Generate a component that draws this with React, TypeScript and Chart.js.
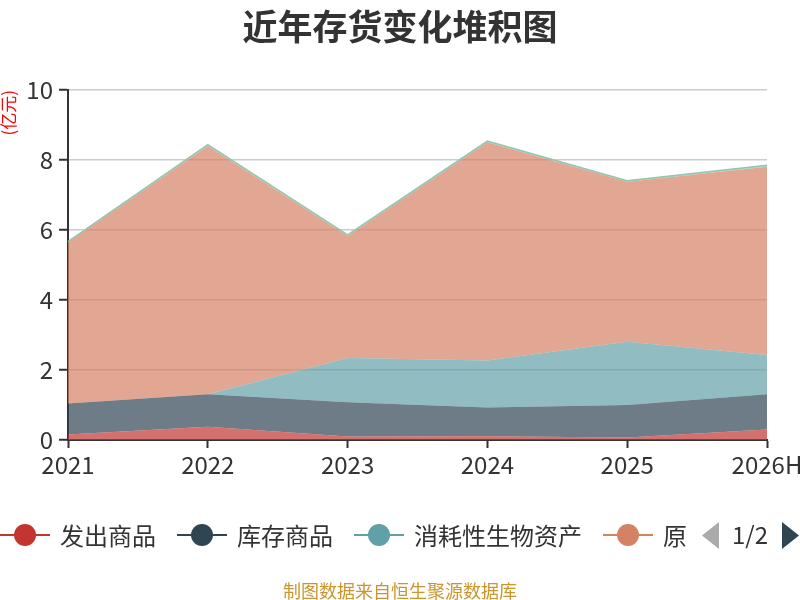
import Chart from "chart.js/auto";
import { useEffect, useRef } from "react";

// 近年存货变化堆积图 (单位: 亿元)
const years = ["2021", "2022", "2023", "2024", "2025", "2026H"];
const seriesNames = ["发出商品", "库存商品", "消耗性生物资产", "原材料", "周转材料"];
const seriesColors = ["#c23531", "#2f4554", "#61a0a8", "#d48265", "#91c7ae"];

const fachuShangpin = [0.16, 0.38, 0.1, 0.11, 0.07, 0.3];
const kucunShangpin = [0.88, 0.93, 0.98, 0.82, 0.93, 1.01];
const xiaohaoZichan = [0, 0, 1.26, 1.34, 1.81, 1.12];
const yuancailiao = [4.6, 7.09, 3.49, 6.24, 4.57, 5.38];
const zhouzhuanCailiao = [0.03, 0.04, 0.03, 0.03, 0.03, 0.04];

const yMin = 0;
const yMax = 10;
const yStep = 2;

const seriesValues = [fachuShangpin, kucunShangpin, xiaohaoZichan, yuancailiao, zhouzhuanCailiao];

const FONT = '"Noto Sans CJK SC", "Noto Sans", sans-serif';

function LegendIcon({ color }: { color: string }) {
  return (
    <svg width={50} height={24} style={{ flex: "none" }}>
      <line x1={0} y1={12} x2={50} y2={12} stroke={color} strokeWidth={2} />
      <circle cx={25} cy={12} r={11} fill={color} />
    </svg>
  );
}

export default function App() {
  const canvasRef = useRef<HTMLCanvasElement>(null);

  useEffect(() => {
    if (!canvasRef.current) return;

    const chart = new Chart(canvasRef.current, {
      type: "line",
      data: {
        labels: years,
        datasets: seriesNames.map((name, i) => ({
          label: name,
          data: seriesValues[i],
          borderColor: seriesColors[i],
          borderWidth: i === 4 ? 1.5 : 0,
          backgroundColor: seriesColors[i] + "b3",
          fill: i === 0 ? "origin" : "-1",
          pointRadius: 0,
          tension: 0,
        })),
      },
      options: {
        responsive: false,
        animation: false,
        layout: {
          padding: { top: 90, left: 0, right: 33, bottom: 120 },
        },
        plugins: {
          legend: { display: false },
          tooltip: { enabled: false },
        },
        scales: {
          x: {
            offset: false,
            grid: {
              drawOnChartArea: false,
              drawTicks: true,
              tickLength: 8,
              tickColor: "#333",
              tickWidth: 2,
            },
            border: { color: "#333", width: 2 },
            ticks: {
              color: "#333",
              font: { family: FONT, size: 24 },
              padding: 2,
              maxRotation: 0,
              autoSkip: false,
            },
            afterFit: (scale: any) => {
              scale.height = 40;
              scale.paddingLeft = 0;
              scale.paddingRight = 0;
            },
          },
          y: {
            stacked: true,
            min: yMin,
            max: yMax,
            grid: {
              color: "#ccc",
              lineWidth: 1.5,
              tickLength: 9,
              tickColor: "#333",
              tickWidth: 2,
            },
            border: { color: "#333", width: 2 },
            ticks: {
              stepSize: yStep,
              color: "#333",
              font: { family: FONT, size: 24 },
              padding: 6,
            },
            title: {
              display: true,
              text: "(亿元)",
              color: "#ff0000",
              align: "end",
              font: { family: FONT, size: 17, lineHeight: 1 },
              padding: { top: 0, bottom: 0 },
            },
            afterFit: (scale: any) => {
              scale.width = 68;
            },
          },
        },
      },
    });

    return () => {
      chart.destroy();
    };
  }, []);

  return (
    <div
      style={{
        position: "absolute",
        left: 0,
        top: 0,
        width: 800,
        height: 600,
        background: "#fff",
        fontFamily: FONT,
      }}
    >
      <canvas ref={canvasRef} width={800} height={600} style={{ position: "absolute", left: 0, top: 0 }} />
      <div
        style={{
          position: "absolute",
          left: 0,
          top: 4,
          width: 800,
          textAlign: "center",
          fontSize: 35,
          fontWeight: "bold",
          color: "#333",
          lineHeight: "42px",
        }}
      >
        近年存货变化堆积图
      </div>
      <div
        style={{
          position: "absolute",
          left: 0,
          top: 519,
          width: 687,
          height: 32,
          overflow: "hidden",
          display: "flex",
          alignItems: "center",
          whiteSpace: "nowrap",
        }}
      >
        {seriesNames.map((name, i) => (
          <div key={name} style={{ display: "flex", alignItems: "center", marginRight: 21, flex: "none" }}>
            <LegendIcon color={seriesColors[i]} />
            <span style={{ marginLeft: 10, fontSize: 24, color: "#333", lineHeight: "32px" }}>{name}</span>
          </div>
        ))}
      </div>
      <svg width={17} height={27} style={{ position: "absolute", left: 702, top: 522 }}>
        <polygon points="17,0 17,27 0,13.5" fill="#aaa" />
      </svg>
      <div
        style={{
          position: "absolute",
          left: 728,
          top: 518,
          width: 44,
          textAlign: "center",
          fontSize: 24,
          color: "#333",
          lineHeight: "32px",
        }}
      >
        1/2
      </div>
      <svg width={17} height={27} style={{ position: "absolute", left: 782, top: 522 }}>
        <polygon points="0,0 17,13.5 0,27" fill="#2f4554" />
      </svg>
      <div
        style={{
          position: "absolute",
          left: 0,
          top: 577,
          width: 800,
          textAlign: "center",
          fontSize: 18,
          color: "#c9962e",
          lineHeight: "26px",
        }}
      >
        制图数据来自恒生聚源数据库
      </div>
    </div>
  );
}
